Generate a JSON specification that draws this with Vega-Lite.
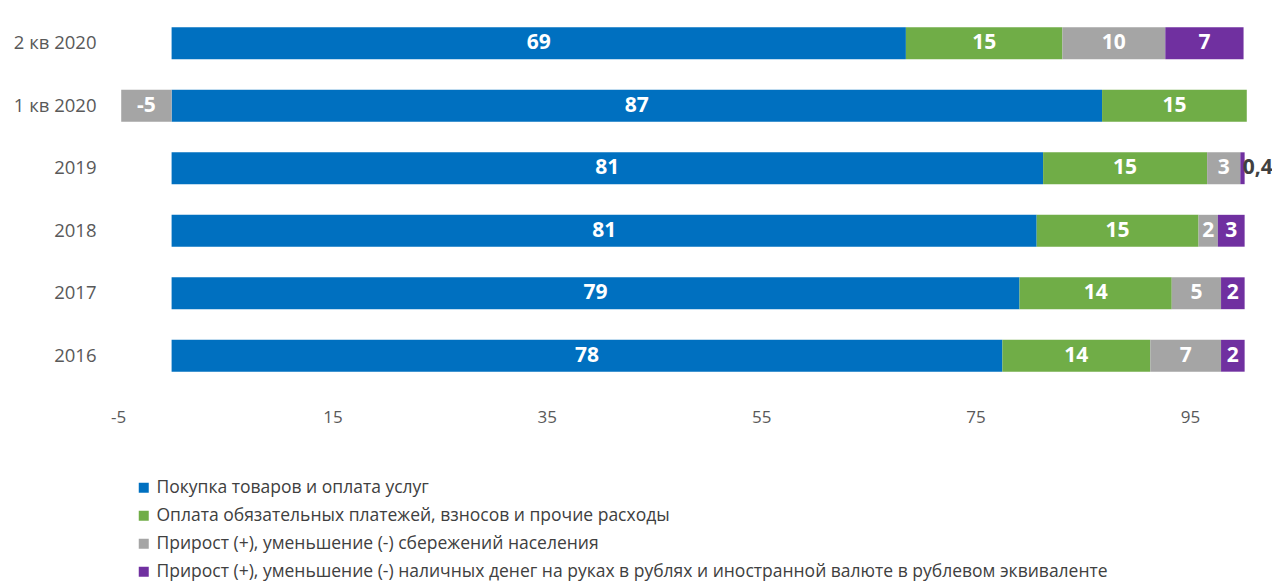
{
  "$schema": "https://vega.github.io/schema/vega-lite/v6.json",
  "autosize": "none",
  "width": 1147,
  "height": 375,
  "padding": {"left": 118, "top": 12, "right": 7, "bottom": 194},
  "background": "white",
  "config": {"view": {"stroke": null}, "font": "Open Sans"},
  "data": {"values": [
    {"period": "2 кв 2020", "cat": "Покупка товаров и оплата услуг", "k": 1, "value": 68.5, "label": "69"},
    {"period": "2 кв 2020", "cat": "Оплата обязательных платежей, взносов и прочие расходы", "k": 2, "value": 14.6, "label": "15"},
    {"period": "2 кв 2020", "cat": "Прирост (+), уменьшение (-) сбережений населения", "k": 3, "value": 9.6, "label": "10"},
    {"period": "2 кв 2020", "cat": "Прирост (+), уменьшение (-) наличных денег  на руках в рублях и иностранной валюте в рублевом эквиваленте", "k": 4, "value": 7.3, "label": "7"},
    {"period": "1 кв 2020", "cat": "Покупка товаров и оплата услуг", "k": 1, "value": 86.8, "label": "87"},
    {"period": "1 кв 2020", "cat": "Оплата обязательных платежей, взносов и прочие расходы", "k": 2, "value": 13.5, "label": "15"},
    {"period": "1 кв 2020", "cat": "Прирост (+), уменьшение (-) сбережений населения", "k": 3, "value": -4.7, "label": "-5"},
    {"period": "2019", "cat": "Покупка товаров и оплата услуг", "k": 1, "value": 81.3, "label": "81"},
    {"period": "2019", "cat": "Оплата обязательных платежей, взносов и прочие расходы", "k": 2, "value": 15.3, "label": "15"},
    {"period": "2019", "cat": "Прирост (+), уменьшение (-) сбережений населения", "k": 3, "value": 3.1, "label": "3"},
    {"period": "2019", "cat": "Прирост (+), уменьшение (-) наличных денег  на руках в рублях и иностранной валюте в рублевом эквиваленте", "k": 4, "value": 0.4, "label": "0,4"},
    {"period": "2018", "cat": "Покупка товаров и оплата услуг", "k": 1, "value": 80.7, "label": "81"},
    {"period": "2018", "cat": "Оплата обязательных платежей, взносов и прочие расходы", "k": 2, "value": 15.1, "label": "15"},
    {"period": "2018", "cat": "Прирост (+), уменьшение (-) сбережений населения", "k": 3, "value": 1.8, "label": "2"},
    {"period": "2018", "cat": "Прирост (+), уменьшение (-) наличных денег  на руках в рублях и иностранной валюте в рублевом эквиваленте", "k": 4, "value": 2.5, "label": "3"},
    {"period": "2017", "cat": "Покупка товаров и оплата услуг", "k": 1, "value": 79.1, "label": "79"},
    {"period": "2017", "cat": "Оплата обязательных платежей, взносов и прочие расходы", "k": 2, "value": 14.2, "label": "14"},
    {"period": "2017", "cat": "Прирост (+), уменьшение (-) сбережений населения", "k": 3, "value": 4.6, "label": "5"},
    {"period": "2017", "cat": "Прирост (+), уменьшение (-) наличных денег  на руках в рублях и иностранной валюте в рублевом эквиваленте", "k": 4, "value": 2.2, "label": "2"},
    {"period": "2016", "cat": "Покупка товаров и оплата услуг", "k": 1, "value": 77.5, "label": "78"},
    {"period": "2016", "cat": "Оплата обязательных платежей, взносов и прочие расходы", "k": 2, "value": 13.8, "label": "14"},
    {"period": "2016", "cat": "Прирост (+), уменьшение (-) сбережений населения", "k": 3, "value": 6.6, "label": "7"},
    {"period": "2016", "cat": "Прирост (+), уменьшение (-) наличных денег  на руках в рублях и иностранной валюте в рублевом эквиваленте", "k": 4, "value": 2.2, "label": "2"}
  ]},
  "transform": [
    {"stack": "value", "groupby": ["period"], "sort": [{"field": "k", "order": "ascending"}], "as": ["x0", "x1"], "offset": "zero"},
    {"calculate": "(datum.x0 + datum.x1) / 2", "as": "mid"}
  ],
  "encoding": {
    "y": {
      "field": "period", "type": "nominal", "sort": ["2 кв 2020", "1 кв 2020", "2019", "2018", "2017", "2016"],
      "scale": {"paddingInner": 0.49, "paddingOuter": 0.245},
      "axis": {"title": null, "ticks": false, "domain": false, "labelPadding": 22, "labelFontSize": 18.5, "labelColor": "#595959", "labelFont": "Open Sans"}
    }
  },
  "layer": [
    {
      "mark": {"type": "bar"},
      "encoding": {
        "x": {"field": "x0", "type": "quantitative",
          "scale": {"domain": [-5, 102], "nice": false, "zero": false},
          "axis": {"title": null, "values": [-5, 15, 35, 55, 75, 95], "grid": false, "domain": false, "ticks": false, "labelPadding": 22, "labelFontSize": 17, "labelColor": "#595959", "labelFont": "Open Sans", "labelFlush": false, "labelExpr": "replace(datum.label, '−', '-')"}},
        "x2": {"field": "x1"},
        "color": {
          "field": "cat", "type": "nominal",
          "sort": {"field": "k"},
          "scale": {
            "domain": ["Покупка товаров и оплата услуг", "Оплата обязательных платежей, взносов и прочие расходы", "Прирост (+), уменьшение (-) сбережений населения", "Прирост (+), уменьшение (-) наличных денег  на руках в рублях и иностранной валюте в рублевом эквиваленте"],
            "range": ["#0070C0", "#70AD47", "#A5A5A5", "#7030A0"]
          },
          "legend": {
            "title": null, "orient": "none", "legendX": 17, "legendY": 467,
            "direction": "vertical", "symbolType": "square", "symbolSize": 100, "symbolStrokeWidth": 0,
            "labelFontSize": 17.5, "labelColor": "#404040", "labelFont": "Open Sans", "labelLimit": 1200,
            "rowPadding": 9, "labelOffset": 4, "padding": 0
          }
        }
      }
    },
    {
      "mark": {"type": "rule", "color": "#D9D9D9", "strokeWidth": 1.5},
      "encoding": {"x": {"datum": 0, "type": "quantitative"}}
    },
    {
      "transform": [{"filter": "abs(datum.value) >= 1"}],
      "mark": {"type": "text", "color": "white", "fontWeight": "bold", "fontSize": 21, "font": "Open Sans", "align": "center", "baseline": "middle"},
      "encoding": {
        "x": {"field": "mid", "type": "quantitative"},
        "text": {"field": "label"}
      }
    },
    {
      "transform": [{"filter": "abs(datum.value) < 1"}],
      "mark": {"type": "text", "color": "#404040", "fontWeight": "bold", "fontSize": 21, "font": "Open Sans", "align": "left", "baseline": "middle", "dx": -2},
      "encoding": {
        "x": {"field": "x1", "type": "quantitative"},
        "text": {"field": "label"}
      }
    }
  ]
}
